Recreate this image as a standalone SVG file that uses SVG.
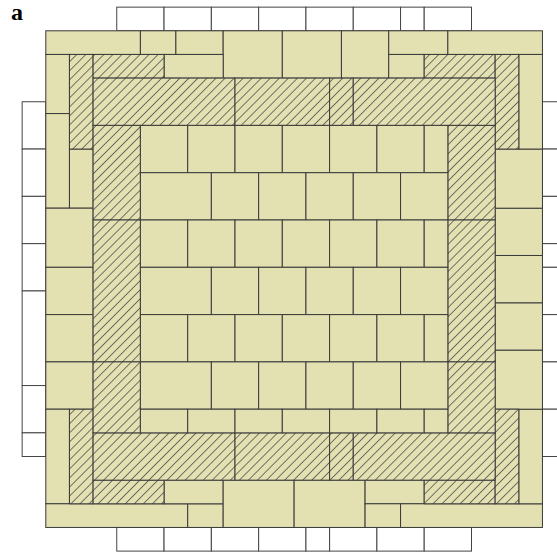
<svg xmlns="http://www.w3.org/2000/svg" xmlns:xlink="http://www.w3.org/1999/xlink" width="557" height="554" viewBox="0 0 557 554">
<defs>
<style>
.w{fill:#ffffff;stroke:#444;stroke-width:1}
.p{fill:#E3E0B1;stroke:#3a3a3a;stroke-width:1}
.h{fill:url(#hatch);stroke:#3a3a3a;stroke-width:1}
.lbl{font-family:"Liberation Serif","Times New Roman",serif;font-weight:bold;font-size:24px;fill:#000}
</style>
<pattern id="hatch" patternUnits="userSpaceOnUse" width="6.4" height="6.4" patternTransform="rotate(45)">
<rect width="6.4" height="6.4" fill="#E3E0B1"/>
<line x1="3.2" y1="0" x2="3.2" y2="6.4" stroke="#555" stroke-width="0.8"/>
</pattern>
<g id="rowA">
<rect class="p" x="140.4" y="0" width="47.3" height="47.3"/>
<rect class="p" x="187.7" y="0" width="47.3" height="47.3"/>
<rect class="p" x="235" y="0" width="47.3" height="47.3"/>
<rect class="p" x="282.3" y="0" width="47.3" height="47.3"/>
<rect class="p" x="329.6" y="0" width="47.3" height="47.3"/>
<rect class="p" x="376.9" y="0" width="47.3" height="47.3"/>
<rect class="p" x="424.2" y="0" width="23.65" height="47.3"/>
</g>
<g id="rowB">
<rect class="p" x="140.4" y="0" width="70.95" height="47.3"/>
<rect class="p" x="211.35" y="0" width="47.3" height="47.3"/>
<rect class="p" x="258.65" y="0" width="47.3" height="47.3"/>
<rect class="p" x="305.95" y="0" width="47.3" height="47.3"/>
<rect class="p" x="353.25" y="0" width="47.3" height="47.3"/>
<rect class="p" x="400.55" y="0" width="47.3" height="47.3"/>
</g>
<g id="rowS">
<rect class="p" x="140.4" y="0" width="47.3" height="23.65"/>
<rect class="p" x="187.7" y="0" width="47.3" height="23.65"/>
<rect class="p" x="235" y="0" width="47.3" height="23.65"/>
<rect class="p" x="282.3" y="0" width="47.3" height="23.65"/>
<rect class="p" x="329.6" y="0" width="47.3" height="23.65"/>
<rect class="p" x="376.9" y="0" width="47.3" height="23.65"/>
<rect class="p" x="424.2" y="0" width="23.65" height="23.65"/>
</g>
</defs>
<rect width="557" height="554" fill="#ffffff"/>
<text class="lbl" x="11" y="20">a</text>
<g id="outside-top">
<rect class="w" x="116.75" y="7.15" width="47.3" height="23.65"/>
<rect class="w" x="164.05" y="7.15" width="47.3" height="23.65"/>
<rect class="w" x="211.35" y="7.15" width="47.3" height="23.65"/>
<rect class="w" x="258.65" y="7.15" width="47.3" height="23.65"/>
<rect class="w" x="305.95" y="7.15" width="47.3" height="23.65"/>
<rect class="w" x="353.25" y="7.15" width="47.3" height="23.65"/>
<rect class="w" x="400.55" y="7.15" width="23.65" height="23.65"/>
<rect class="w" x="424.2" y="7.15" width="47.3" height="23.65"/>
</g>
<g id="outside-bottom">
<rect class="w" x="116.75" y="527.45" width="47.3" height="23.65"/>
<rect class="w" x="164.05" y="527.45" width="47.3" height="23.65"/>
<rect class="w" x="211.35" y="527.45" width="47.3" height="23.65"/>
<rect class="w" x="258.65" y="527.45" width="47.3" height="23.65"/>
<rect class="w" x="305.95" y="527.45" width="23.65" height="23.65"/>
<rect class="w" x="329.6" y="527.45" width="47.3" height="23.65"/>
<rect class="w" x="376.9" y="527.45" width="47.3" height="23.65"/>
<rect class="w" x="424.2" y="527.45" width="47.3" height="23.65"/>
</g>
<g id="outside-left">
<rect class="w" x="22.15" y="101.75" width="23.65" height="47.3"/>
<rect class="w" x="22.15" y="149.05" width="23.65" height="47.3"/>
<rect class="w" x="22.15" y="196.35" width="23.65" height="47.3"/>
<rect class="w" x="22.15" y="243.65" width="23.65" height="47.3"/>
<rect class="w" x="22.15" y="290.95" width="23.65" height="94.6"/>
<rect class="w" x="22.15" y="385.55" width="23.65" height="47.3"/>
<rect class="w" x="22.15" y="432.85" width="23.65" height="23.65"/>
</g>
<g id="outside-right">
<rect class="w" x="542.45" y="101.75" width="23.65" height="47.3"/>
<rect class="w" x="542.45" y="149.05" width="23.65" height="47.3"/>
<rect class="w" x="542.45" y="196.35" width="23.65" height="47.3"/>
<rect class="w" x="542.45" y="243.65" width="23.65" height="23.65"/>
<rect class="w" x="542.45" y="267.3" width="23.65" height="47.3"/>
<rect class="w" x="542.45" y="314.6" width="23.65" height="47.3"/>
<rect class="w" x="542.45" y="361.9" width="23.65" height="47.3"/>
<rect class="w" x="542.45" y="409.2" width="23.65" height="47.3"/>
</g>
<g id="outer-ring">
<rect class="p" x="45.8" y="30.8" width="94.6" height="23.65"/>
<rect class="p" x="140.4" y="30.8" width="35.48" height="23.65"/>
<rect class="p" x="175.88" y="30.8" width="47.3" height="23.65"/>
<rect class="p" x="223.18" y="30.8" width="59.13" height="47.3"/>
<rect class="p" x="282.3" y="30.8" width="59.13" height="47.3"/>
<rect class="p" x="341.43" y="30.8" width="47.3" height="47.3"/>
<rect class="p" x="388.73" y="30.8" width="59.13" height="23.65"/>
<rect class="p" x="447.85" y="30.8" width="94.6" height="23.65"/>
<rect class="p" x="164.05" y="54.45" width="59.13" height="23.65"/>
<rect class="p" x="388.73" y="54.45" width="35.48" height="23.65"/>
<rect class="p" x="45.8" y="54.45" width="23.65" height="59.13"/>
<rect class="p" x="45.8" y="113.58" width="23.65" height="94.6"/>
<rect class="p" x="69.45" y="149.05" width="23.65" height="59.13"/>
<rect class="p" x="45.8" y="208.18" width="47.3" height="59.13"/>
<rect class="p" x="45.8" y="267.3" width="47.3" height="47.3"/>
<rect class="p" x="45.8" y="314.6" width="47.3" height="47.3"/>
<rect class="p" x="45.8" y="361.9" width="47.3" height="47.3"/>
<rect class="p" x="45.8" y="409.2" width="23.65" height="94.6"/>
<rect class="p" x="45.8" y="503.8" width="141.9" height="23.65"/>
<rect class="p" x="187.7" y="503.8" width="35.48" height="23.65"/>
<rect class="p" x="164.05" y="480.15" width="59.13" height="23.65"/>
<rect class="p" x="223.18" y="480.15" width="70.95" height="47.3"/>
<rect class="p" x="294.13" y="480.15" width="70.95" height="47.3"/>
<rect class="p" x="365.08" y="480.15" width="59.13" height="23.65"/>
<rect class="p" x="365.08" y="503.8" width="35.48" height="23.65"/>
<rect class="p" x="400.55" y="503.8" width="141.9" height="23.65"/>
<rect class="p" x="518.8" y="409.2" width="23.65" height="94.6"/>
<rect class="p" x="495.15" y="350.08" width="47.3" height="59.13"/>
<rect class="p" x="495.15" y="302.78" width="47.3" height="47.3"/>
<rect class="p" x="495.15" y="255.48" width="47.3" height="47.3"/>
<rect class="p" x="495.15" y="208.18" width="47.3" height="47.3"/>
<rect class="p" x="495.15" y="149.05" width="47.3" height="59.13"/>
<rect class="p" x="518.8" y="54.45" width="23.65" height="94.6"/>
</g>
<g id="hatched">
<rect class="h" x="69.45" y="54.45" width="23.65" height="94.6"/>
<rect class="h" x="93.1" y="54.45" width="70.95" height="23.65"/>
<rect class="h" x="424.2" y="54.45" width="70.95" height="23.65"/>
<rect class="h" x="495.15" y="54.45" width="23.65" height="94.6"/>
<rect class="h" x="69.45" y="409.2" width="23.65" height="94.6"/>
<rect class="h" x="93.1" y="480.15" width="70.95" height="23.65"/>
<rect class="h" x="424.2" y="480.15" width="70.95" height="23.65"/>
<rect class="h" x="495.15" y="409.2" width="23.65" height="94.6"/>
<rect class="h" x="93.1" y="78.1" width="141.9" height="47.3"/>
<rect class="h" x="235" y="78.1" width="94.6" height="47.3"/>
<rect class="h" x="329.6" y="78.1" width="23.65" height="47.3"/>
<rect class="h" x="353.25" y="78.1" width="141.9" height="47.3"/>
<rect class="h" x="93.1" y="432.85" width="141.9" height="47.3"/>
<rect class="h" x="235" y="432.85" width="94.6" height="47.3"/>
<rect class="h" x="329.6" y="432.85" width="23.65" height="47.3"/>
<rect class="h" x="353.25" y="432.85" width="141.9" height="47.3"/>
<rect class="h" x="93.1" y="125.4" width="47.3" height="94.6"/>
<rect class="h" x="93.1" y="220" width="47.3" height="141.9"/>
<rect class="h" x="93.1" y="361.9" width="47.3" height="70.95"/>
<rect class="h" x="447.85" y="125.4" width="47.3" height="94.6"/>
<rect class="h" x="447.85" y="220" width="47.3" height="141.9"/>
<rect class="h" x="447.85" y="361.9" width="47.3" height="70.95"/>
</g>
<g id="interior">
<use xlink:href="#rowA" y="125.4"/>
<use xlink:href="#rowB" y="172.7"/>
<use xlink:href="#rowA" y="220"/>
<use xlink:href="#rowB" y="267.3"/>
<use xlink:href="#rowA" y="314.6"/>
<use xlink:href="#rowB" y="361.9"/>
<use xlink:href="#rowS" y="409.2"/>
</g>
</svg>
